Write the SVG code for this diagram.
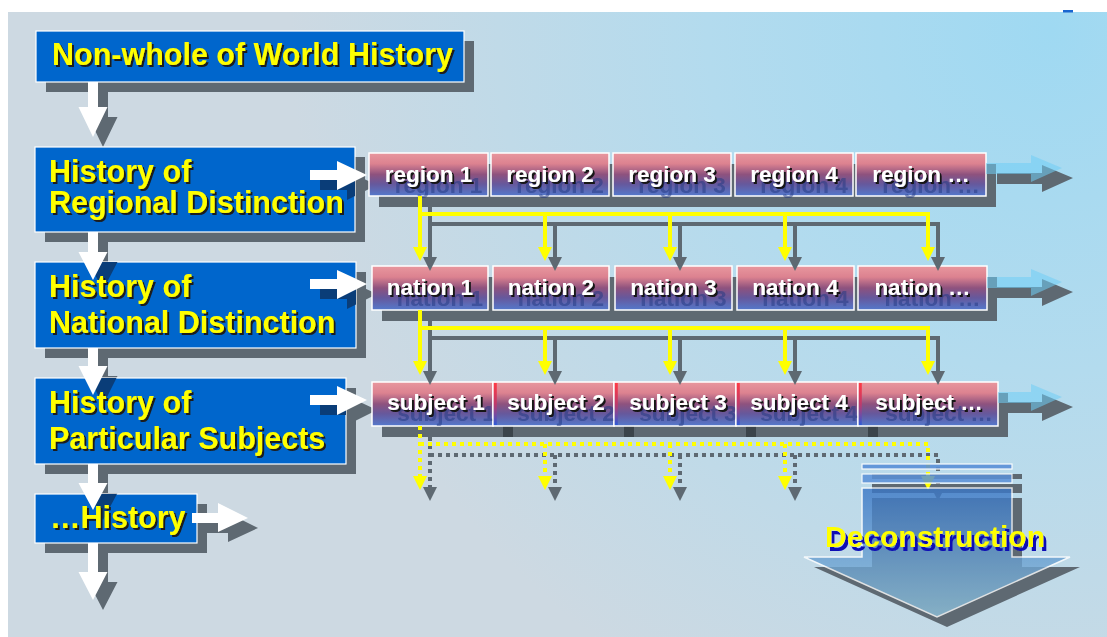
<svg xmlns="http://www.w3.org/2000/svg" width="1107" height="637" viewBox="0 0 1107 637">
<defs>
  <radialGradient id="bg" cx="1050" cy="30" r="760" gradientUnits="userSpaceOnUse">
    <stop offset="0" stop-color="#9fd9f2"/>
    <stop offset="0.45" stop-color="#b3dbee"/>
    <stop offset="1" stop-color="#cdd9e2"/>
  </radialGradient>
  <linearGradient id="cell" x1="0" y1="0" x2="0" y2="1">
    <stop offset="0" stop-color="#e8979e"/>
    <stop offset="0.25" stop-color="#dc8290"/>
    <stop offset="0.5" stop-color="#8e527e"/>
    <stop offset="0.72" stop-color="#66589c"/>
    <stop offset="1" stop-color="#5479cc"/>
  </linearGradient>
  <linearGradient id="stripe" x1="0" y1="0" x2="0" y2="1">
    <stop offset="0" stop-color="#ff3a44"/>
    <stop offset="0.5" stop-color="#c03a6a"/>
    <stop offset="1" stop-color="#2f5ad6"/>
  </linearGradient>
  <linearGradient id="decon" x1="0" y1="0" x2="0" y2="1">
    <stop offset="0" stop-color="#3a76c6"/>
    <stop offset="1" stop-color="#90c2da"/>
  </linearGradient>
  <filter id="ytxt" x="-5%" y="-30%" width="115%" height="160%">
    <feDropShadow dx="2" dy="2" stdDeviation="0.3" flood-color="#1c1c1c" flood-opacity="1"/>
  </filter>
  <filter id="lbl" x="-20%" y="-60%" width="150%" height="220%">
    <feFlood flood-color="#1d3580" flood-opacity="0.5"/>
    <feComposite in2="SourceAlpha" operator="in"/>
    <feOffset dx="10" dy="11" result="far"/>
    <feFlood flood-color="#151515" flood-opacity="1"/>
    <feComposite in2="SourceAlpha" operator="in"/>
    <feOffset dx="1.5" dy="1.5" result="near"/>
    <feMerge><feMergeNode in="far"/><feMergeNode in="near"/><feMergeNode in="SourceGraphic"/></feMerge>
  </filter>
  <filter id="dtxt" x="-5%" y="-30%" width="115%" height="170%">
    <feDropShadow dx="3" dy="4" stdDeviation="0" flood-color="#0a10b4" flood-opacity="1"/>
  </filter>
  <clipPath id="clip2"><rect x="35" y="147" width="320" height="85"/></clipPath>
  <clipPath id="clip3"><rect x="35" y="262" width="321" height="86"/></clipPath>
  <clipPath id="clip4"><rect x="35" y="378" width="311" height="86"/></clipPath>
  <clipPath id="clip5"><rect x="35" y="494" width="162" height="49"/></clipPath>
  <style>
    .box { fill: #0066cc; stroke: #ffffff; stroke-width: 1.2; }
    .ytext { font-family: "Liberation Sans", Arial, sans-serif; font-weight: bold; font-size: 30.5px; fill: #ffff00; filter: url(#ytxt); }
    .cell { fill: url(#cell); stroke: #ffffff; stroke-width: 1.5; }
    .ltext { font-family: "Liberation Sans", Arial, sans-serif; font-weight: bold; font-size: 22.5px; fill: #ffffff; text-anchor: middle; filter: url(#lbl); }
    .shadow { fill: #5e6972; }
    .inshadow { fill: #0a3d78; }
    .white { fill: #ffffff; }
    .yl { fill: none; stroke: #ffff00; stroke-width: 4; }
    .yh { fill: #ffff00; }
    .gl { fill: none; stroke: #5e6972; stroke-width: 4; }
    .gh { fill: #5e6972; }
    .dot { stroke-dasharray: 4 4; }
    .lb { fill: #6fcdf5; opacity: 0.55; }
  </style>
</defs>

<!-- background -->
<rect x="0" y="0" width="1107" height="637" fill="#ffffff"/>
<rect x="8" y="12" width="1099" height="625" fill="url(#bg)"/>
<rect x="1063" y="10" width="10" height="2.5" fill="#1a66d0"/>

<!-- shadows -->
<g id="shadows">
  <rect class="shadow" x="46" y="41" width="428" height="51"/>
  <rect class="shadow" x="45" y="157" width="320" height="85"/>
  <rect class="shadow" x="45" y="272" width="321" height="86"/>
  <rect class="shadow" x="45" y="388" width="311" height="86"/>
  <rect class="shadow" x="45" y="504" width="162" height="49"/>
  <rect class="shadow" x="379" y="164" width="617" height="43"/>
  <rect class="shadow" x="382" y="277" width="615" height="44"/>
  <rect class="shadow" x="382" y="393" width="626" height="44"/>
  <path class="shadow" d="M997 173 H1042 V165 L1073 178 L1042 192 V184 H997 Z"/>
  <path class="shadow" d="M997 287 H1042 V279 L1073 292 L1042 306 V298 H997 Z"/>
  <path class="shadow" d="M1000 402 H1042 V394 L1073 407 L1042 421 V413 H1000 Z"/>
  <path class="shadow" d="M98 92 H108 V117 H117.5 L103 147 L88.5 117 H98 Z"/>
  <path class="shadow" d="M98 242 H108 V262 H117.5 L103 290 L88.5 262 H98 Z"/>
  <path class="shadow" d="M98 358 H108 V376 H117.5 L103 405 L88.5 376 H98 Z"/>
  <path class="shadow" d="M98 474 H108 V493 H117.5 L103 520 L88.5 493 H98 Z"/>
  <path class="shadow" d="M98 553 H108 V582 H117.5 L103 610 L88.5 582 H98 Z"/>
  <path class="shadow" d="M320 180 H347 V171 L377 185 L347 200 V190 H320 Z"/>
  <path class="shadow" d="M320 289 H347 V280 L377 294 L347 309 V299 H320 Z"/>
  <path class="shadow" d="M320 405 H347 V396 L377 410 L347 425 V415 H320 Z"/>
  <path class="shadow" d="M202 523 H228 V513 L258 528 L228 542 V533 H202 Z"/>
  <rect class="shadow" x="872" y="474" width="150" height="5"/>
  <rect class="shadow" x="872" y="484" width="150" height="9"/>
  <path class="shadow" d="M872 498 H1022 V567 H1080 L947 627 L814 567 H872 Z"/>
</g>

<!-- region row -->
<g id="node-region-1"><rect class="cell" x="369" y="153" width="119" height="43"/><text class="ltext" x="428.5" y="182">region 1</text></g>
<g id="node-region-2"><rect class="cell" x="491" y="153" width="118" height="43"/><text class="ltext" x="550" y="182">region 2</text></g>
<g id="node-region-3"><rect class="cell" x="613" y="153" width="118" height="43"/><text class="ltext" x="672" y="182">region 3</text></g>
<g id="node-region-4"><rect class="cell" x="735" y="153" width="118" height="43"/><text class="ltext" x="794" y="182">region 4</text></g>
<g id="node-region-5"><rect class="cell" x="856" y="153" width="130" height="43"/><text class="ltext" x="921" y="182">region …</text></g>

<!-- nation row -->
<g id="node-nation-1"><rect class="cell" x="372" y="266" width="116" height="44"/><text class="ltext" x="430" y="295">nation 1</text></g>
<g id="node-nation-2"><rect class="cell" x="493" y="266" width="116" height="44"/><text class="ltext" x="551" y="295">nation 2</text></g>
<g id="node-nation-3"><rect class="cell" x="615" y="266" width="117" height="44"/><text class="ltext" x="673.5" y="295">nation 3</text></g>
<g id="node-nation-4"><rect class="cell" x="737" y="266" width="117" height="44"/><text class="ltext" x="795.5" y="295">nation 4</text></g>
<g id="node-nation-5"><rect class="cell" x="858" y="266" width="129" height="44"/><text class="ltext" x="922.5" y="295">nation …</text></g>

<!-- subject row -->
<g id="subject-shadow-marks" fill="#3b444b">
  <rect x="503" y="426" width="10" height="11"/>
  <rect x="624" y="426" width="10" height="11"/>
  <rect x="746" y="426" width="10" height="11"/>
  <rect x="868" y="426" width="10" height="11"/>
</g>
<g id="node-subject-1"><rect class="cell" x="372" y="382" width="121" height="44"/><text class="ltext" x="436" y="410">subject 1</text></g>
<g id="node-subject-2"><rect class="cell" x="493" y="382" width="121" height="44"/><rect x="493.8" y="383" width="3" height="42" fill="url(#stripe)"/><text class="ltext" x="556" y="410">subject 2</text></g>
<g id="node-subject-3"><rect class="cell" x="614" y="382" width="122" height="44"/><rect x="614.8" y="383" width="3" height="42" fill="url(#stripe)"/><text class="ltext" x="678" y="410">subject 3</text></g>
<g id="node-subject-4"><rect class="cell" x="736" y="382" width="122" height="44"/><rect x="736.8" y="383" width="3" height="42" fill="url(#stripe)"/><text class="ltext" x="799" y="410">subject 4</text></g>
<g id="node-subject-5"><rect class="cell" x="858" y="382" width="140" height="44"/><rect x="858.8" y="383" width="3" height="42" fill="url(#stripe)"/><text class="ltext" x="929" y="410">subject …</text></g>

<!-- connectors -->
<g id="connectors">
  <path class="white" d="M88 82 H98 V107 H107.5 L93 137 L78.5 107 H88 Z"/>
  <path class="white" d="M88 232 H98 V252 H107.5 L93 280 L78.5 252 H88 Z"/>
  <path class="white" d="M88 348 H98 V366 H107.5 L93 395 L78.5 366 H88 Z"/>
  <path class="white" d="M88 464 H98 V483 H107.5 L93 510 L78.5 483 H88 Z"/>
  <path class="white" d="M88 543 H98 V572 H107.5 L93 600 L78.5 572 H88 Z"/>
  <path class="white" d="M310 170 H337 V161 L367 175 L337 190 V180 H310 Z"/>
  <path class="white" d="M310 279 H337 V270 L367 284 L337 299 V289 H310 Z"/>
  <path class="white" d="M310 395 H337 V386 L367 400 L337 415 V405 H310 Z"/>
  <path class="white" d="M192 513 H218 V503 L248 518 L218 532 V523 H192 Z"/>
  <path class="lb" d="M986 163 H1031 V155 L1062 168 L1031 182 V174 H986 Z"/>
  <path class="lb" d="M987 277 H1031 V269 L1062 282 L1031 296 V288 H987 Z"/>
  <path class="lb" d="M998 392 H1031 V384 L1062 397 L1031 411 V403 H998 Z"/>

  <path class="gl" d="M430 206 V257 M430 224 H938 V257 M555 224 V257 M680 224 V257 M795 224 V257"/>
  <g class="gh">
    <polygon points="423,257 437,257 430,271"/>
    <polygon points="548,257 562,257 555,271"/>
    <polygon points="673,257 687,257 680,271"/>
    <polygon points="788,257 802,257 795,271"/>
    <polygon points="931,257 945,257 938,271"/>
  </g>
  <path class="yl" d="M420 196 V247 M420 214 H928 V247 M545 214 V247 M670 214 V247 M785 214 V247"/>
  <g class="yh">
    <polygon points="413,247 427,247 420,261"/>
    <polygon points="538,247 552,247 545,261"/>
    <polygon points="663,247 677,247 670,261"/>
    <polygon points="778,247 792,247 785,261"/>
    <polygon points="921,247 935,247 928,261"/>
  </g>

  <path class="gl" d="M430 320 V371 M430 338 H938 V371 M555 338 V371 M680 338 V371 M795 338 V371"/>
  <g class="gh">
    <polygon points="423,371 437,371 430,385"/>
    <polygon points="548,371 562,371 555,385"/>
    <polygon points="673,371 687,371 680,385"/>
    <polygon points="788,371 802,371 795,385"/>
    <polygon points="931,371 945,371 938,385"/>
  </g>
  <path class="yl" d="M420 310 V361 M420 328 H928 V361 M545 328 V361 M670 328 V361 M785 328 V361"/>
  <g class="yh">
    <polygon points="413,361 427,361 420,375"/>
    <polygon points="538,361 552,361 545,375"/>
    <polygon points="663,361 677,361 670,375"/>
    <polygon points="778,361 792,361 785,375"/>
    <polygon points="921,361 935,361 928,375"/>
  </g>

  <path class="gl dot" d="M430 437 V487 M430 455 H938 V487 M555 455 V487 M680 455 V487 M795 455 V487"/>
  <g class="gh">
    <polygon points="423,487 437,487 430,501"/>
    <polygon points="548,487 562,487 555,501"/>
    <polygon points="673,487 687,487 680,501"/>
    <polygon points="788,487 802,487 795,501"/>
    <polygon points="931,487 945,487 938,501"/>
  </g>
  <path class="yl dot" d="M420 426 V476 M420 444 H928 V476 M545 444 V476 M670 444 V476 M785 444 V476"/>
  <g class="yh">
    <polygon points="413,476 427,476 420,490"/>
    <polygon points="538,476 552,476 545,490"/>
    <polygon points="663,476 677,476 670,490"/>
    <polygon points="778,476 792,476 785,490"/>
    <polygon points="921,476 935,476 928,490"/>
  </g>
</g>

<!-- left column nodes (arrow parts inside each box are re-drawn under the text) -->
<g id="node-world">
  <rect class="box" x="36" y="31" width="428" height="51"/>
  <text class="ytext" x="52" y="65">Non-whole of World History</text>
</g>
<g id="node-regional">
  <rect class="box" x="35" y="147" width="320" height="85"/>
  <g clip-path="url(#clip2)">
    <path class="inshadow" d="M320 180 H347 V171 L377 185 L347 200 V190 H320 Z"/>
    <path class="white" d="M310 170 H337 V161 L367 175 L337 190 V180 H310 Z"/>
  </g>
  <text class="ytext" x="49" y="182">History of</text>
  <text class="ytext" x="49" y="213">Regional Distinction</text>
</g>
<g id="node-national">
  <rect class="box" x="35" y="262" width="321" height="86"/>
  <g clip-path="url(#clip3)">
    <path class="inshadow" d="M98 242 H108 V262 H117.5 L103 290 L88.5 262 H98 Z"/>
    <path class="white" d="M88 232 H98 V252 H107.5 L93 280 L78.5 252 H88 Z"/>
    <path class="inshadow" d="M320 289 H347 V280 L377 294 L347 309 V299 H320 Z"/>
    <path class="white" d="M310 279 H337 V270 L367 284 L337 299 V289 H310 Z"/>
  </g>
  <text class="ytext" x="49" y="297">History of</text>
  <text class="ytext" x="49" y="333">National Distinction</text>
</g>
<g id="node-subjects">
  <rect class="box" x="35" y="378" width="311" height="86"/>
  <g clip-path="url(#clip4)">
    <path class="inshadow" d="M98 358 H108 V376 H117.5 L103 405 L88.5 376 H98 Z"/>
    <path class="white" d="M88 348 H98 V366 H107.5 L93 395 L78.5 366 H88 Z"/>
    <path class="inshadow" d="M320 405 H347 V396 L377 410 L347 425 V415 H320 Z"/>
    <path class="white" d="M310 395 H337 V386 L367 400 L337 415 V405 H310 Z"/>
  </g>
  <text class="ytext" x="49" y="413">History of</text>
  <text class="ytext" x="49" y="449">Particular Subjects</text>
</g>
<g id="node-etc">
  <rect class="box" x="35" y="494" width="162" height="49"/>
  <g clip-path="url(#clip5)">
    <path class="inshadow" d="M98 474 H108 V493 H117.5 L103 520 L88.5 493 H98 Z"/>
    <path class="white" d="M88 464 H98 V483 H107.5 L93 510 L78.5 483 H88 Z"/>
    <path class="white" d="M192 513 H218 V503 L248 518 L218 532 V523 H192 Z"/>
  </g>
  <text class="ytext" x="50" y="528">…History</text>
</g>

<!-- deconstruction arrow -->
<g id="deconstruction">
  <rect x="862" y="464" width="150" height="5" fill="#5a90d8" stroke="#ffffff" stroke-width="1.2" opacity="0.9"/>
  <rect x="862" y="474" width="150" height="9" fill="#5a90d8" stroke="#ffffff" stroke-width="1.2" opacity="0.85"/>
  <path d="M862 488 H1012 V557 H1070 L937 617 L804 557 H862 Z" fill="url(#decon)" opacity="0.8" stroke="#ffffff" stroke-width="1.5"/>
  <text x="825" y="547" font-family="Liberation Sans, Arial, sans-serif" font-weight="bold" font-size="30" fill="#ffff00" filter="url(#dtxt)">Deconstruction</text>
</g>
</svg>
